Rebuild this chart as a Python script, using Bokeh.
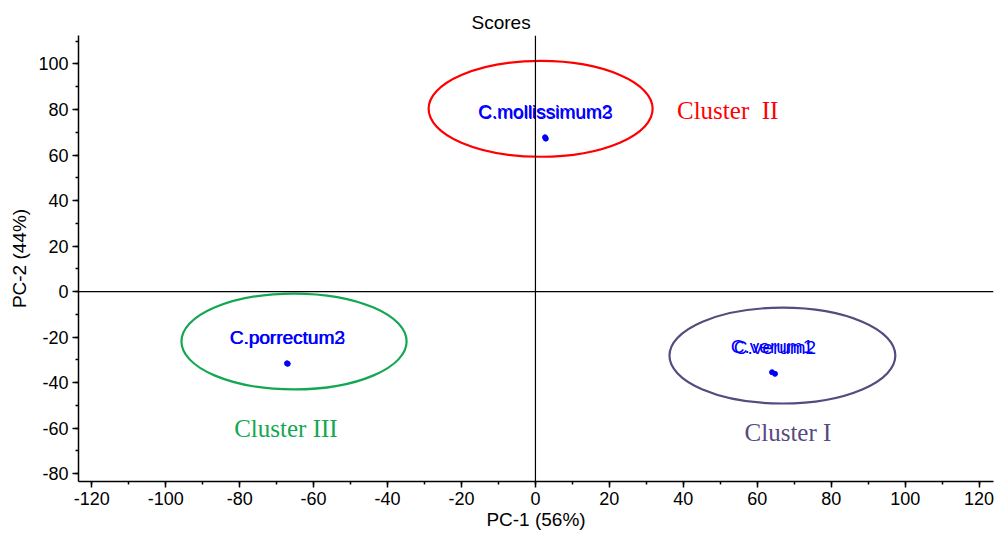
from bokeh.plotting import figure
from bokeh.models import Range1d, SingleIntervalTicker, Span, NumeralTickFormatter
from bokeh.core.properties import value
from bokeh.embed import file_html
from bokeh.resources import INLINE

# Sample scores
names = ["C.verum1", "C.verum2", "C.mollissimum2", "C.mollissimum3", "C.porrectum2", "C.porrectum3"]
pc1 = [64.0, 64.8, 2.6, 2.8, -67.2, -67.0]
pc2 = [-35.4, -36.1, 67.8, 67.2, -31.5, -31.7]

# Cluster ellipses
cl_names = ["Cluster I", "Cluster \u00a0II", "Cluster III"]
cl_cx = [66.8, 1.4, -65.3]
cl_cy = [-28.1, 80.3, -21.9]
cl_w = [61.1, 60.6, 60.9]
cl_h = [42.1, 42.1, 42.1]
cl_colors = ["#574A7E", "#FF0000", "#14A752"]
cl_lx = [68.3, 52.0, -67.5]
cl_ly = [-61.8, 79.4, -60.1]

p = figure(width=997, height=537, output_backend="svg", toolbar_location=None,
           x_range=Range1d(-123.6, 123.9), y_range=Range1d(-83.4, 112.5),
           min_border_left=78, min_border_right=4, min_border_top=35, min_border_bottom=56)
p.outline_line_color = None
p.xgrid.visible = False
p.ygrid.visible = False

p.title.text = "Scores"
p.title.align = "left"
p.title.offset = 393
p.title.text_font = "Liberation Sans"
p.title.text_font_size = "19px"
p.title.text_font_style = "normal"
p.title.text_color = "black"
p.title.standoff = 6

for ax in (p.xaxis[0], p.yaxis[0]):
    ax.ticker = SingleIntervalTicker(interval=20, num_minor_ticks=2)
    ax.formatter = NumeralTickFormatter(format="0")
    ax.axis_line_width = 1.5
    ax.major_tick_line_width = 1.5
    ax.minor_tick_line_width = 1.5
    ax.major_tick_in = 0
    ax.major_tick_out = 6
    ax.minor_tick_in = 0
    ax.minor_tick_out = 3
    ax.major_label_text_font = "Liberation Sans"
    ax.major_label_text_font_size = "18px"
    ax.major_label_text_color = "black"
    ax.axis_label_text_font = "Liberation Sans"
    ax.axis_label_text_font_size = "19px"
    ax.axis_label_text_font_style = "normal"
    ax.axis_label_text_color = "black"
    ax.major_label_standoff = 4

p.xaxis.axis_label = "PC-1 (56%)"
p.yaxis.axis_label = "PC-2 (44%)"
p.xaxis.axis_label_standoff = 1
p.yaxis.axis_label_standoff = 5

p.add_layout(Span(location=0, dimension="width", line_color="black", line_width=1.2))
p.add_layout(Span(location=0, dimension="height", line_color="black", line_width=1.2))

p.ellipse(x=cl_cx, y=cl_cy, width=cl_w, height=cl_h, fill_color=None,
          line_color=cl_colors, line_width=2.2)

p.scatter(x=pc1, y=pc2, size=5, color="#0000FF")
p.text(x=pc1, y=pc2, text=names, text_align="center", text_baseline="middle",
       y_offset=-26, text_color="#0000FF", text_font=value("Liberation Sans"),
       text_font_size="19px")

p.text(x=cl_lx, y=cl_ly, text=cl_names, text_align="center", text_baseline="middle",
       text_color=cl_colors, text_font=value("Liberation Serif"), text_font_size="25px")

open("out.html", "w").write(file_html(p, INLINE))
